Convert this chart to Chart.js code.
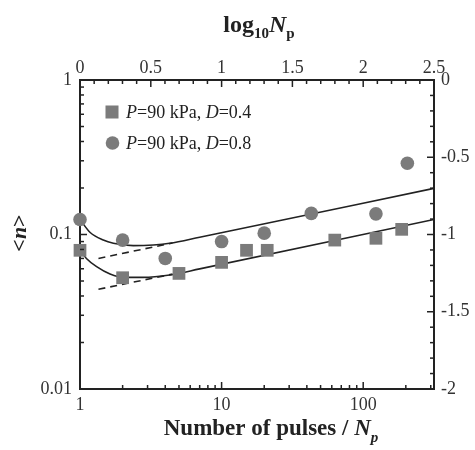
<!DOCTYPE html>
<html>
<head>
<meta charset="utf-8">
<script src="https://cdn.jsdelivr.net/npm/chart.js@4.4.1/dist/chart.umd.min.js"></script>
<style>
  body { margin: 0; background: #fff; }
  #wrap { width: 475px; height: 450px; position: relative; }
</style>
</head>
<body>
<div id="wrap"><canvas id="myChart"></canvas></div>
<script>
// measured points, P = 90 kPa
const pulsesD04 = [1, 2, 5, 10, 15, 21, 63, 123, 187];
const nD04 = [0.079, 0.0525, 0.056, 0.066, 0.079, 0.079, 0.092, 0.0945, 0.108];
const pulsesD08 = [1, 2, 4, 10, 20, 43, 123, 205];
const nD08 = [0.125, 0.092, 0.070, 0.090, 0.102, 0.137, 0.136, 0.289];

// solid fit curves
const fitXD04 = [1, 1.11, 1.31, 1.63, 2.02, 2.79, 4.3, 7, 316];
const fitYD04 = [0.079, 0.070, 0.0619, 0.0555, 0.0528, 0.0528, 0.0547, 0.0599, 0.125];
const fitXD08 = [1, 1.18, 1.46, 1.72, 2.38, 3.3, 4.3, 7, 316];
const fitYD08 = [0.125, 0.103, 0.092, 0.0877, 0.0847, 0.0855, 0.0877, 0.096, 0.199];

// dashed power-law asymptotes
const dashX = [1.35, 4.5];
const dashYD04 = [0.0442, 0.0554];
const dashYD08 = [0.0700, 0.0881];

// tick labels
const bottomTicks = [1, 10, 100];
const leftTicks = [0.01, 0.1, 1];
const topTicks = [0, 0.5, 1, 1.5, 2, 2.5];
const rightTicks = [-2, -1.5, -1, -0.5, 0];

const markerColor = '#7b7b7b';
const inkColor = '#222';
const serif = '"Liberation Serif", "Times New Roman", serif';

const pts = (xs, ys) => xs.map((x, i) => ({ x: x, y: ys[i] }));

// inward tick marks on all four sides
const innerTicks = {
  id: 'innerTicks',
  afterDraw(chart) {
    const { ctx, chartArea: a, scales } = chart;
    ctx.save();
    ctx.strokeStyle = inkColor;
    ctx.lineWidth = 1.5;
    const tick = (x1, y1, x2, y2) => {
      ctx.beginPath();
      ctx.moveTo(x1, y1);
      ctx.lineTo(x2, y2);
      ctx.stroke();
    };
    for (let d = -2; d <= 2; d++) {
      for (let k = 1; k <= 9; k++) {
        const v = k * Math.pow(10, d);
        const len = k === 1 ? 7 : 4;
        if (v > 1 && v < 316) {
          const px = scales.x.getPixelForValue(v);
          tick(px, a.bottom, px, a.bottom - len);
        }
        if (v > 0.01 && v < 0.99) {
          const py = scales.y.getPixelForValue(v);
          tick(a.left, py, a.left + len, py);
        }
      }
    }
    for (let i = 1; i < 25; i++) {
      const len = i % 5 === 0 ? 7 : 4;
      const px = scales.x2.getPixelForValue(i / 10);
      tick(px, a.top, px, a.top + len);
      if (i < 20) {
        const py = scales.y2.getPixelForValue(-i / 10);
        tick(a.right, py, a.right - len, py);
      }
    }
    ctx.restore();
  }
};

// axis titles with sub-scripts, and the legend with italic symbols
function drawRuns(ctx, parts, x, y) {
  for (const [text, font, dy] of parts) {
    ctx.font = font;
    ctx.fillText(text, x, y + dy);
    x += ctx.measureText(text).width;
  }
}
function runsWidth(ctx, parts) {
  let w = 0;
  for (const [text, font] of parts) {
    ctx.font = font;
    w += ctx.measureText(text).width;
  }
  return w;
}

const annotations = {
  id: 'annotations',
  afterDraw(chart) {
    const ctx = chart.ctx;
    ctx.save();
    ctx.fillStyle = inkColor;
    ctx.textBaseline = 'alphabetic';
    ctx.textAlign = 'left';

    const top = [
      ['log', 'bold 24px ' + serif, 0],
      ['10', 'bold 15px ' + serif, 6],
      ['N', 'bold italic 24px ' + serif, 0],
      ['p', 'bold 15px ' + serif, 6]
    ];
    drawRuns(ctx, top, 259 - runsWidth(ctx, top) / 2, 32);

    const bottom = [
      ['Number of pulses / ', 'bold 23px ' + serif, 0],
      ['N', 'bold italic 23px ' + serif, 0],
      ['p', 'bold italic 15px ' + serif, 7]
    ];
    drawRuns(ctx, bottom, 271 - runsWidth(ctx, bottom) / 2, 435);

    const left = [
      ['<', 'bold 22px ' + serif, 0],
      ['n', 'bold italic 22px ' + serif, 0],
      ['>', 'bold 22px ' + serif, 0]
    ];
    ctx.save();
    ctx.translate(26, 233);
    ctx.rotate(-Math.PI / 2);
    drawRuns(ctx, left, -runsWidth(ctx, left) / 2, 0);
    ctx.restore();

    // legend
    ctx.fillStyle = markerColor;
    ctx.fillRect(105.5, 105.5, 13, 13);
    ctx.beginPath();
    ctx.arc(112.5, 143, 6.8, 0, Math.PI * 2);
    ctx.fill();
    ctx.fillStyle = inkColor;
    drawRuns(ctx, [
      ['P', 'italic 18px ' + serif, 0],
      ['=90 kPa, ', '18px ' + serif, 0],
      ['D', 'italic 18px ' + serif, 0],
      ['=0.4', '18px ' + serif, 0]
    ], 126, 118);
    drawRuns(ctx, [
      ['P', 'italic 18px ' + serif, 0],
      ['=90 kPa, ', '18px ' + serif, 0],
      ['D', 'italic 18px ' + serif, 0],
      ['=0.8', '18px ' + serif, 0]
    ], 126, 149);
    ctx.restore();
  }
};

const tickFont = { family: serif, size: 18 };
const fmt = v => String(v);

new Chart(document.getElementById('myChart').getContext('2d'), {
  type: 'scatter',
  data: {
    datasets: [
      {
        label: 'P=90 kPa, D=0.4',
        data: pts(pulsesD04, nD04),
        pointStyle: 'rect',
        pointRadius: 9,
        backgroundColor: markerColor,
        borderWidth: 0,
        clip: false
      },
      {
        label: 'P=90 kPa, D=0.8',
        data: pts(pulsesD08, nD08),
        pointStyle: 'circle',
        pointRadius: 6.8,
        backgroundColor: markerColor,
        borderWidth: 0,
        clip: false
      },
      {
        label: 'fit D=0.4',
        data: pts(fitXD04, fitYD04),
        showLine: true,
        cubicInterpolationMode: 'monotone',
        pointRadius: 0,
        borderColor: inkColor,
        borderWidth: 1.6
      },
      {
        label: 'fit D=0.8',
        data: pts(fitXD08, fitYD08),
        showLine: true,
        cubicInterpolationMode: 'monotone',
        pointRadius: 0,
        borderColor: inkColor,
        borderWidth: 1.6
      },
      {
        label: 'power law D=0.4',
        data: pts(dashX, dashYD04),
        showLine: true,
        pointRadius: 0,
        borderColor: inkColor,
        borderWidth: 1.6,
        borderDash: [7, 5]
      },
      {
        label: 'power law D=0.8',
        data: pts(dashX, dashYD08),
        showLine: true,
        pointRadius: 0,
        borderColor: inkColor,
        borderWidth: 1.6,
        borderDash: [7, 5]
      }
    ]
  },
  options: {
    responsive: true,
    maintainAspectRatio: false,
    animation: false,
    layout: { padding: 0 },
    plugins: {
      legend: { display: false },
      tooltip: { enabled: false }
    },
    scales: {
      x: {
        type: 'logarithmic',
        position: 'bottom',
        min: 1,
        max: 316.2278,
        afterBuildTicks: s => { s.ticks = bottomTicks.map(v => ({ value: v })); },
        afterFit: s => { s.height = 61; },
        grid: { display: false, drawTicks: false },
        border: { display: true, color: inkColor, width: 2 },
        ticks: { callback: fmt, autoSkip: false, maxRotation: 0, padding: 5, font: tickFont, color: '#333' }
      },
      x2: {
        type: 'linear',
        position: 'top',
        min: 0,
        max: 2.5,
        afterBuildTicks: s => { s.ticks = topTicks.map(v => ({ value: v })); },
        afterFit: s => { s.height = 80; },
        grid: { display: false, drawTicks: false },
        border: { display: true, color: inkColor, width: 2 },
        ticks: { callback: fmt, autoSkip: false, maxRotation: 0, padding: 1, font: tickFont, color: '#333' }
      },
      y: {
        type: 'logarithmic',
        position: 'left',
        min: 0.01,
        max: 1,
        afterBuildTicks: s => { s.ticks = leftTicks.map(v => ({ value: v })); },
        afterFit: s => { s.width = 80; },
        grid: { display: false, drawTicks: false },
        border: { display: true, color: inkColor, width: 2 },
        ticks: { callback: fmt, autoSkip: false, padding: 8, font: tickFont, color: '#333' }
      },
      y2: {
        type: 'linear',
        position: 'right',
        min: -2,
        max: 0,
        afterBuildTicks: s => { s.ticks = rightTicks.map(v => ({ value: v })); },
        afterFit: s => { s.width = 41; },
        grid: { display: false, drawTicks: false },
        border: { display: true, color: inkColor, width: 2 },
        ticks: { callback: fmt, autoSkip: false, padding: 7, font: tickFont, color: '#333' }
      }
    }
  },
  plugins: [innerTicks, annotations]
});
</script>
</body>
</html>
